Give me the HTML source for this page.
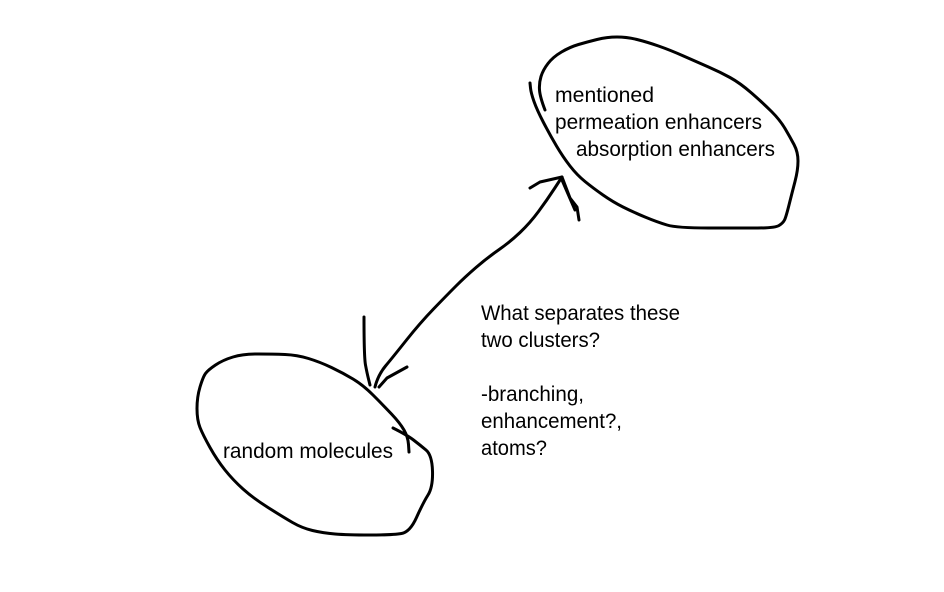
<!DOCTYPE html>
<html lang="en">
<head>
<meta charset="utf-8">
<title>Molecule clusters sketch</title>
<style>
  html, body { margin: 0; padding: 0; background: #fff; }
  svg { display: block; }
  .ink { fill: none; stroke: #000; stroke-width: 3; stroke-linejoin: round; stroke-linecap: round; }
  text { font-family: "Liberation Sans", sans-serif; font-size: 21px; fill: #000; }
</style>
</head>
<body>
<svg xmlns="http://www.w3.org/2000/svg" width="944" height="592" viewBox="0 0 944 592">
  <rect width="944" height="592" fill="#fff"/>

  <path class="ink smooth" data-points="545,110 540,97 539,83 543,70 553,57 570,47 587,42 607,37 627,37 647,42 670,50 697,62 720,72 740,83 763,103 780,120 790,137 798,152 798,170 792,193 786,217 783,223 775,228 740,228 677,228 657,222 633,212 613,202 593,188 577,175 563,157 550,135 537,110 531,93 530,83"/>

  <path class="ink smooth" data-points="393,428 407,435 420,445 432,455 433,487 423,503 410,532 393,535 347,535 323,533 302,528 283,517 253,498 233,480 217,460 203,435 197,420 197,397 203,377 208,370 223,360 243,354 273,354 297,355 320,362 343,373 363,385 383,405 400,423 408,437 409,452"/>

  <path class="ink smooth" data-points="375,387 378,375 393,357 420,323 447,295 465,277 487,258 510,242 530,223 547,200 562,177"/>
  <polyline class="ink" points="530,188 540,182 562,177 570,198 577,207 579,220"/>
  <polyline class="ink" points="562,180 575,210"/>
  <path class="ink smooth" data-points="364,317 364,357 367,373 370,385"/>
  <polyline class="ink" points="379,387 387,378 407,367"/>

  <text x="555" y="102" textLength="99" lengthAdjust="spacingAndGlyphs">mentioned</text>
  <text x="555" y="129" textLength="207" lengthAdjust="spacingAndGlyphs">permeation enhancers</text>
  <text x="576" y="156" textLength="199" lengthAdjust="spacingAndGlyphs">absorption enhancers</text>

  <text x="223" y="458" textLength="170" lengthAdjust="spacingAndGlyphs">random molecules</text>

  <text x="481" y="320" textLength="199" lengthAdjust="spacingAndGlyphs">What separates these</text>
  <text x="481" y="347" textLength="119" lengthAdjust="spacingAndGlyphs">two clusters?</text>
  <text x="481" y="401" textLength="103" lengthAdjust="spacingAndGlyphs">-branching,</text>
  <text x="481" y="428" textLength="141" lengthAdjust="spacingAndGlyphs">enhancement?,</text>
  <text x="481" y="455" textLength="66" lengthAdjust="spacingAndGlyphs">atoms?</text>
</svg>
<script>
  document.querySelectorAll('.smooth').forEach(function (el) {
    var pts = el.getAttribute('data-points').trim().split(/\s+/).map(function (p) {
      return p.split(',').map(Number);
    });
    var d = 'M' + pts[0][0] + ' ' + pts[0][1];
    for (var i = 1; i < pts.length - 1; i++) {
      var mx = (pts[i][0] + pts[i + 1][0]) / 2;
      var my = (pts[i][1] + pts[i + 1][1]) / 2;
      d += ' Q' + pts[i][0] + ' ' + pts[i][1] + ' ' + mx + ' ' + my;
    }
    var last = pts[pts.length - 1];
    d += ' L' + last[0] + ' ' + last[1];
    el.setAttribute('d', d);
  });
</script>
</body>
</html>
